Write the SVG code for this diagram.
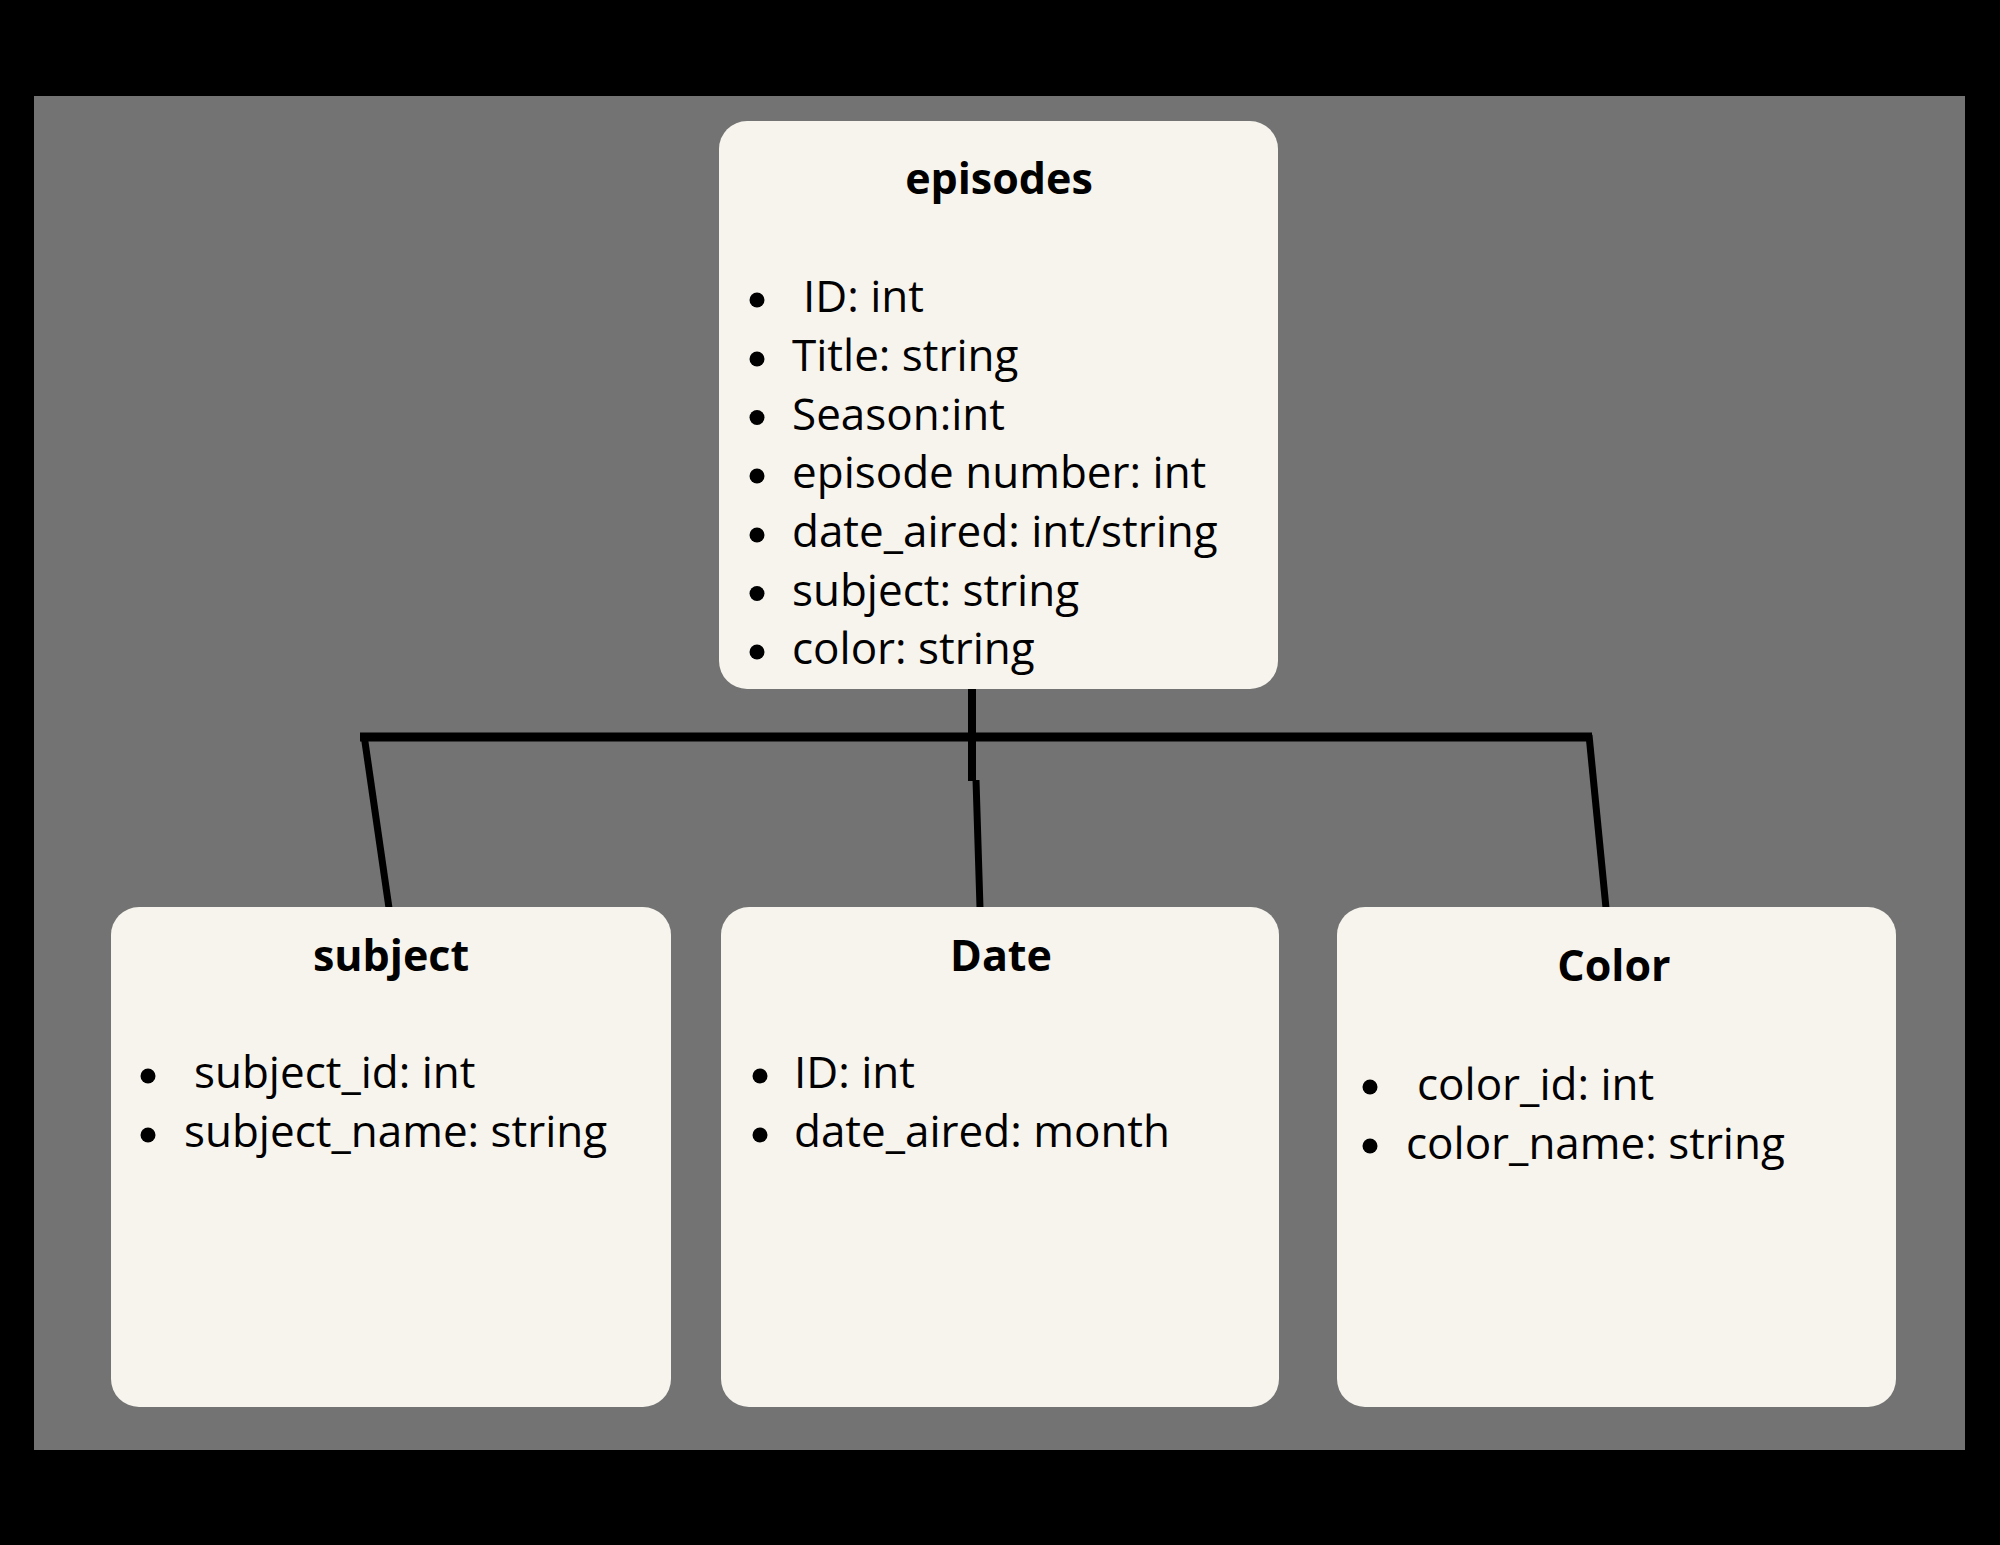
<svg xmlns="http://www.w3.org/2000/svg" width="2000" height="1545" viewBox="0 0 2000 1545">
<style>
.box{fill:#f7f4ed}
.title{font-family:"Open Sans","Noto Sans",sans-serif;font-weight:bold;font-size:43px;fill:#000;text-anchor:middle}
.item{font-family:"Open Sans","Noto Sans",sans-serif;font-size:44px;fill:#000}
.dot{fill:#000}
.conn{stroke:#000;fill:none;stroke-linecap:butt}
</style>
<rect x="0" y="0" width="2000" height="1545" fill="#000"/>
<rect x="34" y="96" width="1931" height="1354" fill="#737373"/>
<g id="connectors">
<line class="conn" x1="972" y1="687" x2="972" y2="781" stroke-width="8"/>
<line class="conn" x1="976" y1="780" x2="980" y2="908" stroke-width="7"/>
<line class="conn" x1="360" y1="737" x2="1592" y2="737" stroke-width="9"/>
<line class="conn" x1="364" y1="735" x2="389" y2="908" stroke-width="7"/>
<line class="conn" x1="1589" y1="735" x2="1606" y2="908" stroke-width="7"/>
</g>
<g id="episodes">
<rect class="box" x="719" y="121" width="559" height="568" rx="28"/>
<text class="title" x="999" y="194">episodes</text>
<circle class="dot" cx="757" cy="300" r="7.5"/>
<circle class="dot" cx="757" cy="359" r="7.5"/>
<circle class="dot" cx="757" cy="417.5" r="7.5"/>
<circle class="dot" cx="757" cy="476" r="7.5"/>
<circle class="dot" cx="757" cy="535" r="7.5"/>
<circle class="dot" cx="757" cy="593.5" r="7.5"/>
<circle class="dot" cx="757" cy="652" r="7.5"/>
<text class="item" x="803" y="312">ID: int</text>
<text class="item" x="792" y="371">Title: string</text>
<text class="item" x="792" y="429.5">Season:int</text>
<text class="item" x="792" y="488">episode number: int</text>
<text class="item" x="792" y="547">date_aired: int/string</text>
<text class="item" x="792" y="605.5">subject: string</text>
<text class="item" x="792" y="664">color: string</text>
</g>
<g id="subject">
<rect class="box" x="111" y="907" width="560" height="500" rx="28"/>
<text class="title" x="391" y="971">subject</text>
<circle class="dot" cx="148" cy="1076" r="7.5"/>
<circle class="dot" cx="148" cy="1135" r="7.5"/>
<text class="item" x="194" y="1088">subject_id: int</text>
<text class="item" x="184" y="1147">subject_name: string</text>
</g>
<g id="date">
<rect class="box" x="721" y="907" width="558" height="500" rx="28"/>
<text class="title" x="1001" y="971">Date</text>
<circle class="dot" cx="760" cy="1076" r="7.5"/>
<circle class="dot" cx="760" cy="1135" r="7.5"/>
<text class="item" x="794" y="1088">ID: int</text>
<text class="item" x="794" y="1147">date_aired: month</text>
</g>
<g id="color">
<rect class="box" x="1337" y="907" width="559" height="500" rx="28"/>
<text class="title" x="1614" y="981">Color</text>
<circle class="dot" cx="1370" cy="1087" r="7.5"/>
<circle class="dot" cx="1370" cy="1146" r="7.5"/>
<text class="item" x="1417" y="1100">color_id: int</text>
<text class="item" x="1406" y="1159">color_name: string</text>
</g>
</svg>
